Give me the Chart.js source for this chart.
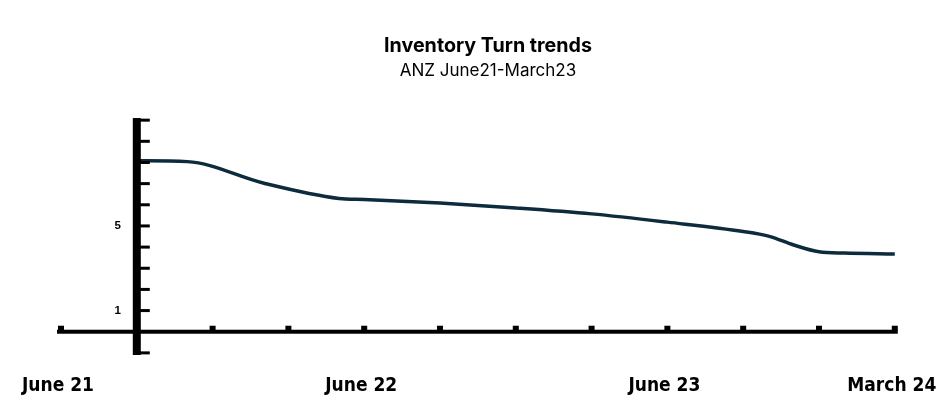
<!DOCTYPE html>
<html>
<head>
<meta charset="utf-8">
<script src="https://cdn.jsdelivr.net/npm/chart.js@4.4.1/dist/chart.umd.min.js"></script>
<style>
  html, body { margin: 0; padding: 0; background: #ffffff; }
  #c { display: block; }
</style>
</head>
<body>
<canvas id="c" width="952" height="415"></canvas>
<script>
// ---- Data ----
const titleText = 'Inventory Turn trends';
const subtitleText = 'ANZ June21-March23';

// months counted from June 2021 (0 = June 21, 33 = March 24)
const monthIndex = [3, 5, 8, 11, 12, 15, 18, 21, 24, 27, 28, 29, 30, 31, 33];
const inventoryTurns = [8.08, 8.04, 7.03, 6.30, 6.25, 6.08, 5.85, 5.57, 5.18, 4.74, 4.52, 4.10, 3.78, 3.72, 3.67];

// x-axis: quarterly tick marks, labelled at a few of them
const xTickMonths = [0, 3, 6, 9, 12, 15, 18, 21, 24, 27, 30, 33];
const xLabelMonths = [0, 12, 24, 33];
const xLabelTexts = ['June 21', 'June 22', 'June 23', 'March 24'];

// y-axis: tick marks and the two labelled values
const yTickValues = [-1, 1, 2, 3, 4, 5, 6, 7, 8, 9, 10];
const yLabelValues = [5, 1];
const yLabelTexts = ['5', '1'];

// ---- Custom axes drawn through the chart's own scales ----
const axesPlugin = {
  id: 'customAxes',
  afterDatasetsDraw(chart) {
    const { ctx, chartArea, scales } = chart;
    const xs = scales.x, ys = scales.y;
    ctx.save();
    ctx.fillStyle = '#000000';

    // horizontal axis at value 0
    const y0 = ys.getPixelForValue(0);
    const xStart = xs.getPixelForValue(xTickMonths[0]) - 4;
    const xEnd = xs.getPixelForValue(xTickMonths[xTickMonths.length - 1]) + 3;
    ctx.fillRect(xStart, y0 - 2, xEnd - xStart, 4);
    xTickMonths.forEach(m => {
      const px = xs.getPixelForValue(m);
      ctx.fillRect(px - 3, y0 - 6, 6, 5);
    });

    // vertical axis at the first data month
    const ax = xs.getPixelForValue(monthIndex[0]);
    ctx.fillRect(ax - 4, chartArea.top, 8, chartArea.bottom - chartArea.top);
    yTickValues.forEach(v => {
      const py = ys.getPixelForValue(v);
      ctx.fillRect(ax, py - 1.5, 13, 3);
    });

    // y labels
    ctx.font = 'bold 11.5px "Liberation Sans", Arial, sans-serif';
    ctx.textAlign = 'right';
    ctx.textBaseline = 'middle';
    yLabelValues.forEach((v, i) => {
      ctx.fillText(yLabelTexts[i], ax - 16, ys.getPixelForValue(v));
    });

    // x labels
    ctx.font = 'bold 19px "DejaVu Sans Condensed", sans-serif';
    ctx.textAlign = 'center';
    ctx.textBaseline = 'middle';
    xLabelMonths.forEach((m, i) => {
      ctx.fillText(xLabelTexts[i], xs.getPixelForValue(m) - 3, chartArea.bottom + 31);
    });
    ctx.restore();
  }
};

const points = monthIndex.map((m, i) => ({ x: m, y: inventoryTurns[i] }));

new Chart(document.getElementById('c'), {
  type: 'line',
  data: {
    datasets: [{
      data: points,
      borderColor: '#0c2b3c',
      borderWidth: 3.5,
      pointRadius: 0,
      fill: false,
      cubicInterpolationMode: 'monotone'
    }]
  },
  options: {
    responsive: false,
    animation: false,
    devicePixelRatio: 1,
    layout: { autoPadding: false, padding: { top: 22, left: 61, right: 37, bottom: 60 } },
    plugins: {
      legend: { display: false },
      tooltip: { enabled: false },
      title: {
        display: true,
        text: titleText,
        color: '#000000',
        font: { family: 'Inter, "Noto Sans", sans-serif', size: 19.7, weight: 'bold' },
        padding: { top: 12, bottom: 0 }
      },
      subtitle: {
        display: true,
        text: subtitleText,
        color: '#000000',
        font: { family: 'Inter, "Noto Sans", sans-serif', size: 17, weight: 'normal' },
        padding: { top: 3.5, bottom: 36.5 }
      }
    },
    scales: {
      x: {
        type: 'linear',
        display: false,
        min: 0,
        max: 33.8
      },
      y: {
        display: false,
        min: -1.1,
        max: 10.1
      }
    }
  },
  plugins: [axesPlugin]
});
</script>
</body>
</html>
